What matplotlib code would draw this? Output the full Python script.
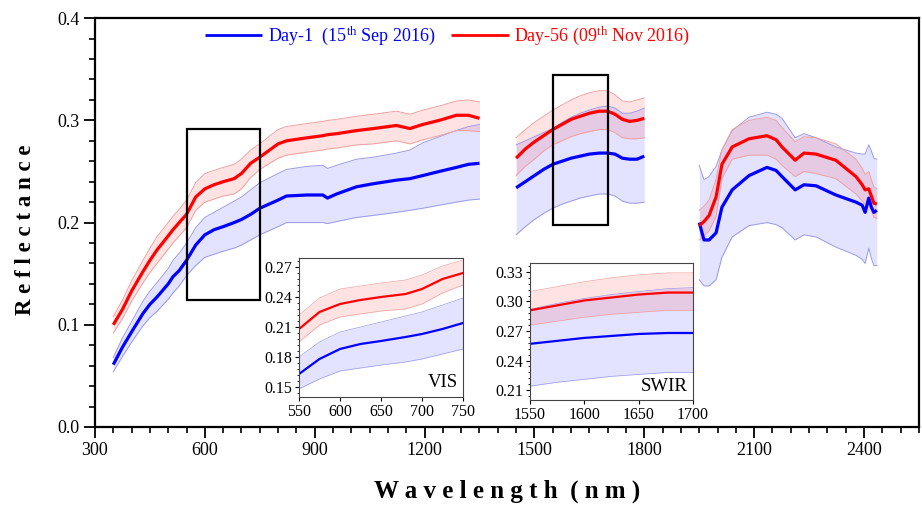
import matplotlib
matplotlib.use("Agg")
import matplotlib.pyplot as plt
from matplotlib.patches import Rectangle
from matplotlib.ticker import MultipleLocator, FormatStrFormatter

plt.rcParams['font.family'] = ['Liberation Serif', 'DejaVu Serif']
plt.rcParams['mathtext.fontset'] = 'custom'
plt.rcParams['mathtext.rm'] = 'Liberation Serif'
plt.rcParams['mathtext.it'] = 'Liberation Serif'

# ---------------- data ----------------
wl_vnir = [350, 375, 400, 431, 450, 469, 500, 513, 530, 550, 575, 600, 625, 650, 680, 700, 725, 750,
           800, 823, 880, 922, 935, 960, 1014, 1060, 1123, 1160, 1195, 1240, 1287, 1320, 1350]
d1_vnir = [0.061, 0.078, 0.093, 0.111, 0.120, 0.127, 0.140, 0.147, 0.153, 0.163, 0.178, 0.188, 0.193, 0.196, 0.200, 0.203, 0.208, 0.214,
           0.222, 0.226, 0.227, 0.227, 0.224, 0.228, 0.235, 0.238, 0.2415, 0.243, 0.246, 0.250, 0.254, 0.257, 0.258]
d1_vnir_lo = [0.054, 0.069, 0.083, 0.099, 0.107, 0.113, 0.125, 0.131, 0.138, 0.148, 0.158, 0.166, 0.169, 0.172, 0.175, 0.178, 0.183, 0.188,
              0.196, 0.200, 0.200, 0.200, 0.199, 0.201, 0.205, 0.207, 0.210, 0.212, 0.214, 0.217, 0.220, 0.222, 0.223]
d1_vnir_hi = [0.068, 0.087, 0.103, 0.123, 0.133, 0.141, 0.155, 0.163, 0.170, 0.180, 0.195, 0.205, 0.210, 0.215, 0.221, 0.225, 0.232, 0.239,
              0.248, 0.252, 0.255, 0.256, 0.253, 0.256, 0.262, 0.264, 0.268, 0.271, 0.278, 0.284, 0.290, 0.294, 0.296]
d56_vnir = [0.100, 0.115, 0.133, 0.152, 0.163, 0.173, 0.187, 0.193, 0.200, 0.208, 0.225, 0.233, 0.237, 0.240, 0.243, 0.248, 0.258, 0.264,
            0.277, 0.280, 0.283, 0.285, 0.286, 0.287, 0.290, 0.292, 0.295, 0.292, 0.296, 0.300, 0.305, 0.305, 0.302]
d56_vnir_lo = [0.092, 0.106, 0.123, 0.141, 0.151, 0.160, 0.174, 0.180, 0.187, 0.195, 0.212, 0.220, 0.223, 0.226, 0.228, 0.233, 0.244, 0.252,
               0.263, 0.266, 0.269, 0.271, 0.272, 0.273, 0.276, 0.277, 0.280, 0.277, 0.281, 0.285, 0.290, 0.290, 0.289]
d56_vnir_hi = [0.108, 0.124, 0.143, 0.163, 0.175, 0.186, 0.200, 0.206, 0.213, 0.222, 0.239, 0.248, 0.251, 0.254, 0.257, 0.262, 0.271, 0.277,
               0.291, 0.294, 0.297, 0.299, 0.300, 0.301, 0.304, 0.306, 0.309, 0.306, 0.310, 0.314, 0.319, 0.320, 0.318]

wl_swir1 = [1450, 1475, 1500, 1525, 1550, 1575, 1600, 1625, 1650, 1677, 1700, 1720, 1740, 1760, 1780, 1800]
d1_swir1 = [0.234, 0.240, 0.246, 0.252, 0.257, 0.260, 0.263, 0.265, 0.267, 0.268, 0.268, 0.267, 0.263, 0.262, 0.262, 0.265]
d1_swir1_lo = [0.188, 0.196, 0.203, 0.209, 0.214, 0.218, 0.221, 0.224, 0.226, 0.228, 0.228, 0.226, 0.221, 0.219, 0.219, 0.220]
d1_swir1_hi = [0.276, 0.280, 0.284, 0.288, 0.292, 0.298, 0.303, 0.307, 0.310, 0.313, 0.314, 0.312, 0.307, 0.307, 0.309, 0.312]
d56_swir1 = [0.263, 0.272, 0.279, 0.285, 0.291, 0.296, 0.301, 0.304, 0.307, 0.309, 0.309, 0.306, 0.301, 0.299, 0.300, 0.302]
d56_swir1_lo = [0.246, 0.255, 0.262, 0.270, 0.276, 0.280, 0.284, 0.287, 0.289, 0.291, 0.291, 0.288, 0.283, 0.282, 0.282, 0.283]
d56_swir1_hi = [0.283, 0.291, 0.298, 0.304, 0.310, 0.315, 0.320, 0.324, 0.327, 0.329, 0.329, 0.325, 0.319, 0.318, 0.320, 0.322]

wl_swir2 = [1950, 1963, 1977, 1996, 2012, 2040, 2086, 2135, 2160, 2176, 2212, 2236, 2269, 2323, 2378, 2395, 2403, 2413, 2420, 2427, 2435]
d1_swir2 = [0.200, 0.183, 0.183, 0.190, 0.215, 0.232, 0.246, 0.254, 0.251, 0.245, 0.232, 0.237, 0.236, 0.227, 0.220, 0.217, 0.210, 0.224, 0.215, 0.210, 0.212]
d1_swir2_lo = [0.144, 0.138, 0.138, 0.144, 0.166, 0.186, 0.197, 0.200, 0.198, 0.195, 0.183, 0.188, 0.186, 0.176, 0.168, 0.164, 0.160, 0.175, 0.165, 0.158, 0.158]
d1_swir2_hi = [0.256, 0.242, 0.245, 0.255, 0.271, 0.290, 0.303, 0.308, 0.306, 0.302, 0.283, 0.287, 0.283, 0.274, 0.268, 0.267, 0.267, 0.276, 0.270, 0.263, 0.262]
d56_swir2 = [0.197, 0.201, 0.207, 0.225, 0.257, 0.274, 0.282, 0.285, 0.281, 0.274, 0.261, 0.268, 0.267, 0.261, 0.245, 0.237, 0.232, 0.233, 0.226, 0.219, 0.218]
d56_swir2_lo = [0.183, 0.187, 0.192, 0.206, 0.243, 0.262, 0.266, 0.266, 0.262, 0.256, 0.245, 0.250, 0.248, 0.243, 0.228, 0.221, 0.218, 0.219, 0.212, 0.205, 0.204]
d56_swir2_hi = [0.212, 0.216, 0.222, 0.243, 0.271, 0.291, 0.300, 0.303, 0.300, 0.293, 0.279, 0.284, 0.283, 0.277, 0.262, 0.253, 0.247, 0.250, 0.242, 0.235, 0.233]

x_ticks = [300, 600, 900, 1200, 1500, 1800, 2100, 2400]
y_ticks = [0.0, 0.1, 0.2, 0.3, 0.4]
legend_labels = ["Day-1  (15$^{\\rm th}$ Sep 2016)", "Day-56 (09$^{\\rm th}$ Nov 2016)"]
vis_xticks = [550, 600, 650, 700, 750]
vis_yticks = [0.15, 0.18, 0.21, 0.24, 0.27]
swir_xticks = [1550, 1600, 1650, 1700]
swir_yticks = [0.21, 0.24, 0.27, 0.30, 0.33]

segments = [
    (wl_vnir, d1_vnir, d1_vnir_lo, d1_vnir_hi, d56_vnir, d56_vnir_lo, d56_vnir_hi),
    (wl_swir1, d1_swir1, d1_swir1_lo, d1_swir1_hi, d56_swir1, d56_swir1_lo, d56_swir1_hi),
    (wl_swir2, d1_swir2, d1_swir2_lo, d1_swir2_hi, d56_swir2, d56_swir2_lo, d56_swir2_hi),
]

BLUE = '#0000ff'
RED = '#ff0000'


def draw(ax, lw_mean=2.3, lw_b=0.7):
    handles = None
    for wl, b, blo, bhi, r, rlo, rhi in segments:
        ax.fill_between(wl, blo, bhi, color=BLUE, alpha=0.11, lw=0)
        ax.plot(wl, blo, color='#9a9ae8', lw=lw_b)
        ax.plot(wl, bhi, color='#9a9ae8', lw=lw_b)
        ax.fill_between(wl, rlo, rhi, color=RED, alpha=0.11, lw=0)
        ax.plot(wl, rlo, color='#f0a0a0', lw=lw_b)
        ax.plot(wl, rhi, color='#f0a0a0', lw=lw_b)
        lb, = ax.plot(wl, b, color=BLUE, lw=lw_mean, solid_capstyle='butt')
        lr, = ax.plot(wl, r, color=RED, lw=lw_mean, solid_capstyle='butt')
        handles = (lb, lr)
    return handles


fig = plt.figure(figsize=(9.22, 5.05), dpi=100)
ax = fig.add_axes([0.103, 0.1545, 0.8937, 0.8095])
lb, lr = draw(ax)
ax.set_xlim(300, 2550)
ax.set_ylim(0.0, 0.4)
ax.set_xticks(x_ticks)
ax.set_yticks(y_ticks)
ax.xaxis.set_minor_locator(MultipleLocator(50))
ax.yaxis.set_minor_locator(MultipleLocator(0.02))
ax.yaxis.set_major_formatter(FormatStrFormatter('%.1f'))
ax.tick_params(which='major', direction='out', length=8, width=1.3, labelsize=13, pad=3)
ax.tick_params(which='minor', direction='out', length=4, width=1.2)
for s in ax.spines.values():
    s.set_linewidth(1.6)

ax.add_patch(Rectangle((550, 0.124), 200, 0.168, fill=False, ec='black', lw=1.6, zorder=5))
ax.add_patch(Rectangle((1550, 0.198), 150, 0.146, fill=False, ec='black', lw=1.6, zorder=5))

leg = fig.legend([lb, lr], legend_labels, loc='center left', bbox_to_anchor=(0.222, 0.929),
                 ncol=2, frameon=False, fontsize=13, handlelength=3.2, handletextpad=0.3,
                 columnspacing=0.85, borderpad=0, borderaxespad=0)
for t, c in zip(leg.get_texts(), [BLUE, RED]):
    t.set_color(c)
for h in leg.legend_handles:
    h.set_linewidth(2.0)

fig.text(0.028, 0.545, "R e f l e c t a n c e", rotation=90, ha='center', va='center',
         fontsize=16.5, fontweight='bold')
fig.text(0.55, 0.027, "W a v e l e n g t h  ( n m )", ha='center', va='center',
         fontsize=18, fontweight='bold')


def inset(rect, xlim, ylim, xt, yt, label, yminor):
    ai = fig.add_axes(rect)
    draw(ai, lw_mean=1.6, lw_b=0.5)
    ai.set_xlim(*xlim)
    ai.set_ylim(*ylim)
    ai.set_xticks(xt)
    ai.set_yticks(yt)
    ai.yaxis.set_major_formatter(FormatStrFormatter('%.2f'))
    ai.yaxis.set_minor_locator(MultipleLocator(yminor))
    ai.tick_params(which='major', direction='out', length=3, width=0.8, labelsize=11.5, pad=2)
    ai.tick_params(which='minor', direction='out', length=1.5, width=0.6)
    for s in ai.spines.values():
        s.set_linewidth(0.8)
        s.set_color('#444444')
    ai.text(0.97, 0.04, label, transform=ai.transAxes, ha='right', va='bottom', fontsize=13.5)
    return ai


inset([0.3243, 0.2139, 0.1779, 0.2752], (550, 750), (0.140, 0.279), vis_xticks, vis_yticks, 'VIS', 0.006)
inset([0.5748, 0.2079, 0.1768, 0.2713], (1550, 1700), (0.200, 0.339), swir_xticks, swir_yticks, 'SWIR', 0.006)

fig.savefig('out.png', dpi=100)
